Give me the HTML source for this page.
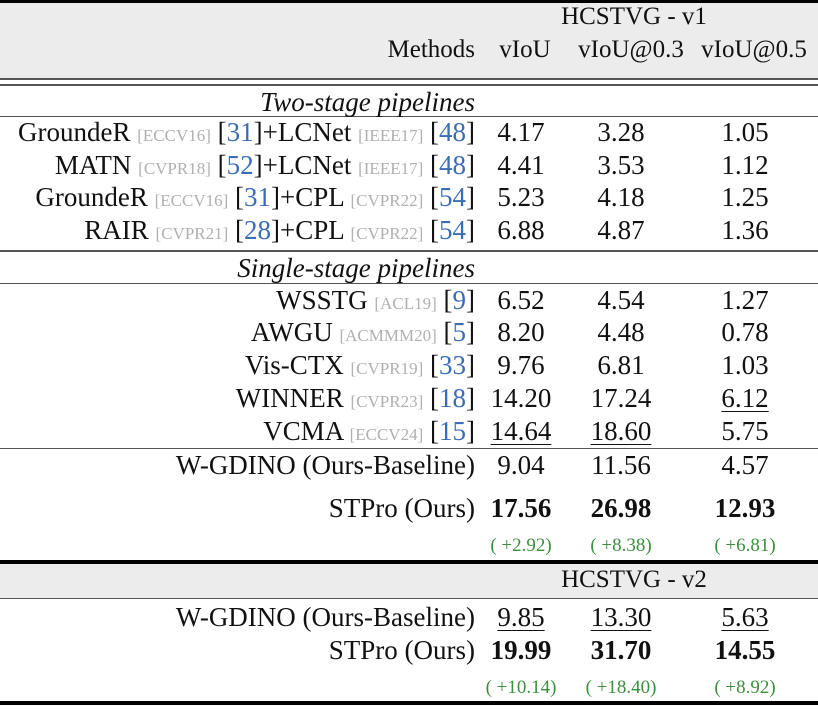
<!DOCTYPE html>
<html><head><meta charset="utf-8"><style>
body{margin:0;width:818px;height:710px;background:#fff;position:relative;overflow:hidden;font-family:"Liberation Serif",serif;color:#111}
.r{position:absolute;left:0;width:818px}
.t{position:absolute;font-size:27px;line-height:26px;white-space:nowrap}
.l{right:343px;text-align:right}
.c{transform:translateX(-50%)}
.g{color:#b0b0b0;font-size:17px}
.b{color:#3a6db5}
.gr{color:#3c8f3c;font-size:19px}
.h{font-size:25px}
.u{text-decoration:underline;text-decoration-thickness:1px;text-underline-offset:4px}
b{font-weight:bold}
</style></head><body>
<div class="r" style="top:3px;height:75px;background:#ececec"></div>
<div class="r" style="top:563px;height:35px;background:#ececec"></div>
<div class="r" style="top:0;height:3px;background:#000"></div>
<div class="r" style="top:78px;height:2px;background:#555"></div>
<div class="r" style="top:84px;height:2px;background:#555"></div>
<div class="r" style="top:116px;height:1px;background:#555"></div>
<div class="r" style="top:250px;height:2px;background:#555"></div>
<div class="r" style="top:283px;height:1px;background:#555"></div>
<div class="r" style="top:448px;height:1px;background:#555"></div>
<div class="r" style="top:560px;height:4px;background:#000"></div>
<div class="r" style="top:598px;height:1px;background:#555"></div>
<div class="r" style="top:701px;height:4px;background:#000"></div>

<div class="t c h" style="left:634px;top:4px">HCSTVG - v1</div>
<div class="t l h" style="top:37px">Methods</div>
<div class="t c h" style="left:525px;top:37px">vIoU</div>
<div class="t c h" style="left:631px;top:37px">vIoU@0.3</div>
<div class="t c h" style="left:754px;top:37px">vIoU@0.5</div>

<div class="t l" style="top:89px;font-style:italic">Two-stage pipelines</div>

<div class="t l" style="top:119px">GroundeR <span class="g">[ECCV16]</span> [<span class="b">31</span>]+LCNet <span class="g">[IEEE17]</span> [<span class="b">48</span>]</div>
<div class="t c" style="left:521px;top:119px">4.17</div>
<div class="t c" style="left:621px;top:119px">3.28</div>
<div class="t c" style="left:745px;top:119px">1.05</div>

<div class="t l" style="top:152px">MATN <span class="g">[CVPR18]</span> [<span class="b">52</span>]+LCNet <span class="g">[IEEE17]</span> [<span class="b">48</span>]</div>
<div class="t c" style="left:521px;top:152px">4.41</div>
<div class="t c" style="left:621px;top:152px">3.53</div>
<div class="t c" style="left:745px;top:152px">1.12</div>

<div class="t l" style="top:184px">GroundeR <span class="g">[ECCV16]</span> [<span class="b">31</span>]+CPL <span class="g">[CVPR22]</span> [<span class="b">54</span>]</div>
<div class="t c" style="left:521px;top:184px">5.23</div>
<div class="t c" style="left:621px;top:184px">4.18</div>
<div class="t c" style="left:745px;top:184px">1.25</div>

<div class="t l" style="top:217px">RAIR <span class="g">[CVPR21]</span> [<span class="b">28</span>]+CPL <span class="g">[CVPR22]</span> [<span class="b">54</span>]</div>
<div class="t c" style="left:521px;top:217px">6.88</div>
<div class="t c" style="left:621px;top:217px">4.87</div>
<div class="t c" style="left:745px;top:217px">1.36</div>

<div class="t l" style="top:255px;font-style:italic">Single-stage pipelines</div>

<div class="t l" style="top:287px">WSSTG <span class="g">[ACL19]</span> [<span class="b">9</span>]</div>
<div class="t c" style="left:521px;top:287px">6.52</div>
<div class="t c" style="left:621px;top:287px">4.54</div>
<div class="t c" style="left:745px;top:287px">1.27</div>

<div class="t l" style="top:319px">AWGU <span class="g">[ACMMM20]</span> [<span class="b">5</span>]</div>
<div class="t c" style="left:521px;top:319px">8.20</div>
<div class="t c" style="left:621px;top:319px">4.48</div>
<div class="t c" style="left:745px;top:319px">0.78</div>

<div class="t l" style="top:352px">Vis-CTX <span class="g">[CVPR19]</span> [<span class="b">33</span>]</div>
<div class="t c" style="left:521px;top:352px">9.76</div>
<div class="t c" style="left:621px;top:352px">6.81</div>
<div class="t c" style="left:745px;top:352px">1.03</div>

<div class="t l" style="top:385px">WINNER <span class="g">[CVPR23]</span> [<span class="b">18</span>]</div>
<div class="t c" style="left:521px;top:385px">14.20</div>
<div class="t c" style="left:621px;top:385px">17.24</div>
<div class="t c u" style="left:745px;top:385px">6.12</div>

<div class="t l" style="top:418px">VCMA <span class="g">[ECCV24]</span> [<span class="b">15</span>]</div>
<div class="t c u" style="left:521px;top:418px">14.64</div>
<div class="t c u" style="left:621px;top:418px">18.60</div>
<div class="t c" style="left:745px;top:418px">5.75</div>

<div class="t l" style="top:452px">W-GDINO (Ours-Baseline)</div>
<div class="t c" style="left:521px;top:452px">9.04</div>
<div class="t c" style="left:621px;top:452px">11.56</div>
<div class="t c" style="left:745px;top:452px">4.57</div>

<div class="t l" style="top:495px">STPro (Ours)</div>
<div class="t c" style="left:521px;top:495px"><b>17.56</b></div>
<div class="t c" style="left:621px;top:495px"><b>26.98</b></div>
<div class="t c" style="left:745px;top:495px"><b>12.93</b></div>
<div class="t c gr" style="left:521px;top:533px">( +2.92)</div>
<div class="t c gr" style="left:621px;top:533px">( +8.38)</div>
<div class="t c gr" style="left:745px;top:533px">( +6.81)</div>

<div class="t c h" style="left:634px;top:567px">HCSTVG - v2</div>

<div class="t l" style="top:604px">W-GDINO (Ours-Baseline)</div>
<div class="t c u" style="left:521px;top:604px">9.85</div>
<div class="t c u" style="left:621px;top:604px">13.30</div>
<div class="t c u" style="left:745px;top:604px">5.63</div>

<div class="t l" style="top:637px">STPro (Ours)</div>
<div class="t c" style="left:521px;top:637px"><b>19.99</b></div>
<div class="t c" style="left:621px;top:637px"><b>31.70</b></div>
<div class="t c" style="left:745px;top:637px"><b>14.55</b></div>
<div class="t c gr" style="left:521px;top:675px">( +10.14)</div>
<div class="t c gr" style="left:621px;top:675px">( +18.40)</div>
<div class="t c gr" style="left:745px;top:675px">( +8.92)</div>
</body></html>
